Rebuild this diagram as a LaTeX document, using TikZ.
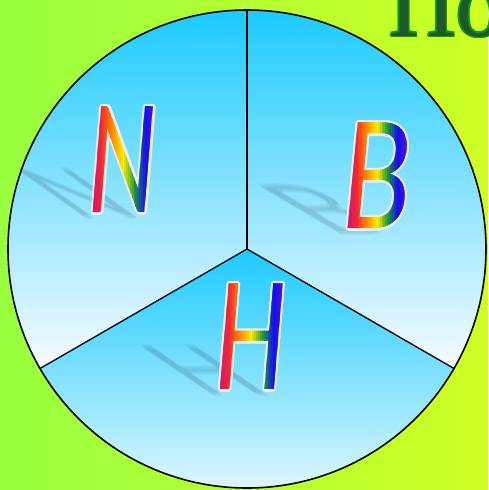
\documentclass[tikz,border=0pt]{standalone}
\usepackage{fontspec}
\newfontfamily\letterfont{Lato}
\newfontfamily\titlefont{Liberation Serif}
\usetikzlibrary{calc}
\definecolor{bgleft}{RGB}{152,255,64}
\definecolor{bgright}{RGB}{206,255,36}
\definecolor{skytop}{RGB}{28,202,255}
\definecolor{skylow}{RGB}{248,252,255}
\definecolor{haloc}{RGB}{236,236,234}
\definecolor{titlegreen}{RGB}{30,88,44}
\definecolor{titleedge}{RGB}{16,150,24}
\definecolor{rbmagenta}{RGB}{200,16,140}
\definecolor{rbred}{RGB}{240,40,50}
\definecolor{rborange}{RGB}{255,140,0}
\definecolor{rbyellow}{RGB}{255,240,0}
\definecolor{rbgreen}{RGB}{30,150,60}
\definecolor{rbblue}{RGB}{16,16,240}
\definecolor{rbviolet}{RGB}{100,16,200}

\tikzset{
    bigletter/.style={
        font=\letterfont\itshape\fontsize{84}{84}\selectfont,
        inner sep=0pt,
        xscale=#1
    },
    bigletter/.default=0.64
}

% #1 position, #2 letter, #3 half width, #4 x scale
\newcommand\rainbowletter[4]{
    % soft shadow
    \foreach \d in {0,2,4}
        \node[bigletter=#4, text=black, opacity=0.05, anchor=south,
              yscale=0.45, xslant=-1.1] at ($(#1)+(-10+\d,56+\d)$) {#2};
    % light rim
    \foreach \a in {0,30,...,330}
        \node[bigletter=#4, text=haloc] at ($(#1)+(\a:2.2)$) {#2};
    \node[bigletter=#4, text=haloc] (lbl#2) at (#1) {#2};
    % rainbow fill, strip by strip
    \foreach \ca/\cb [count=\s from 0] in {rbmagenta/rbred, rbred/rborange,
            rborange/rbyellow, rbyellow/rbgreen, rbgreen/rbblue, rbblue/rbviolet}
        \foreach \k in {0,...,5} {
            \pgfmathsetmacro\p{\k*100/6}
            \begin{scope}
                \clip ($(#1)+({-#3+2*#3*(\s*6+\k)/36},-62)$) rectangle ++({2*#3/36+0.4},124);
                \node[bigletter=#4, text={\cb!\p!\ca}] at (#1) {#2};
            \end{scope}
        }
}

\begin{document}
\begin{tikzpicture}[
    x=0.02cm, y=-0.02cm,
    sector/.style={top color=skytop, bottom color=skylow},
    divider/.style={draw=black, line width=0.75pt},
    rim/.style={draw=black, line width=0.9pt},
    titletext/.style={font=\titlefont\fontsize{53}{53}\selectfont, inner sep=0pt, anchor=base west}
]
\useasboundingbox (0,0) rectangle (488,490);
\clip (0,0) rectangle (488,490);

% background
\shade[left color=bgleft, right color=bgright] (0,0) rectangle (488,490);

% title, cut by the frame
\coordinate (ptitle) at (389,36);
\foreach \a in {0,45,...,315}
    \node[titletext, text=titleedge] at ($(ptitle)+(\a:1.6)$) {По};
\node[titletext, text=titlegreen] (title) at (ptitle) {По};

% disc with three sectors
\coordinate (c) at (247,249);
\shade[sector] (c) -- +(150:239) arc[start angle=150, end angle=270, radius=239] -- cycle;
\shade[sector] (c) -- +(270:239) arc[start angle=270, end angle=390, radius=239] -- cycle;
\shade[sector] (c) -- +(30:239) arc[start angle=30, end angle=150, radius=239] -- cycle;
\draw[divider] (c) -- +(270:239);
\draw[divider] (c) -- +(150:239);
\draw[divider] (c) -- +(30:239);
\draw[rim] (c) circle[radius=239];

% letters
\coordinate (pN) at (123,160);
\coordinate (pB) at (377,176);
\coordinate (pH) at (251,337);
\rainbowletter{pN}{N}{33}{0.65}
\rainbowletter{pB}{B}{31}{0.78}
\rainbowletter{pH}{H}{34}{0.68}

\end{tikzpicture}
\end{document}
